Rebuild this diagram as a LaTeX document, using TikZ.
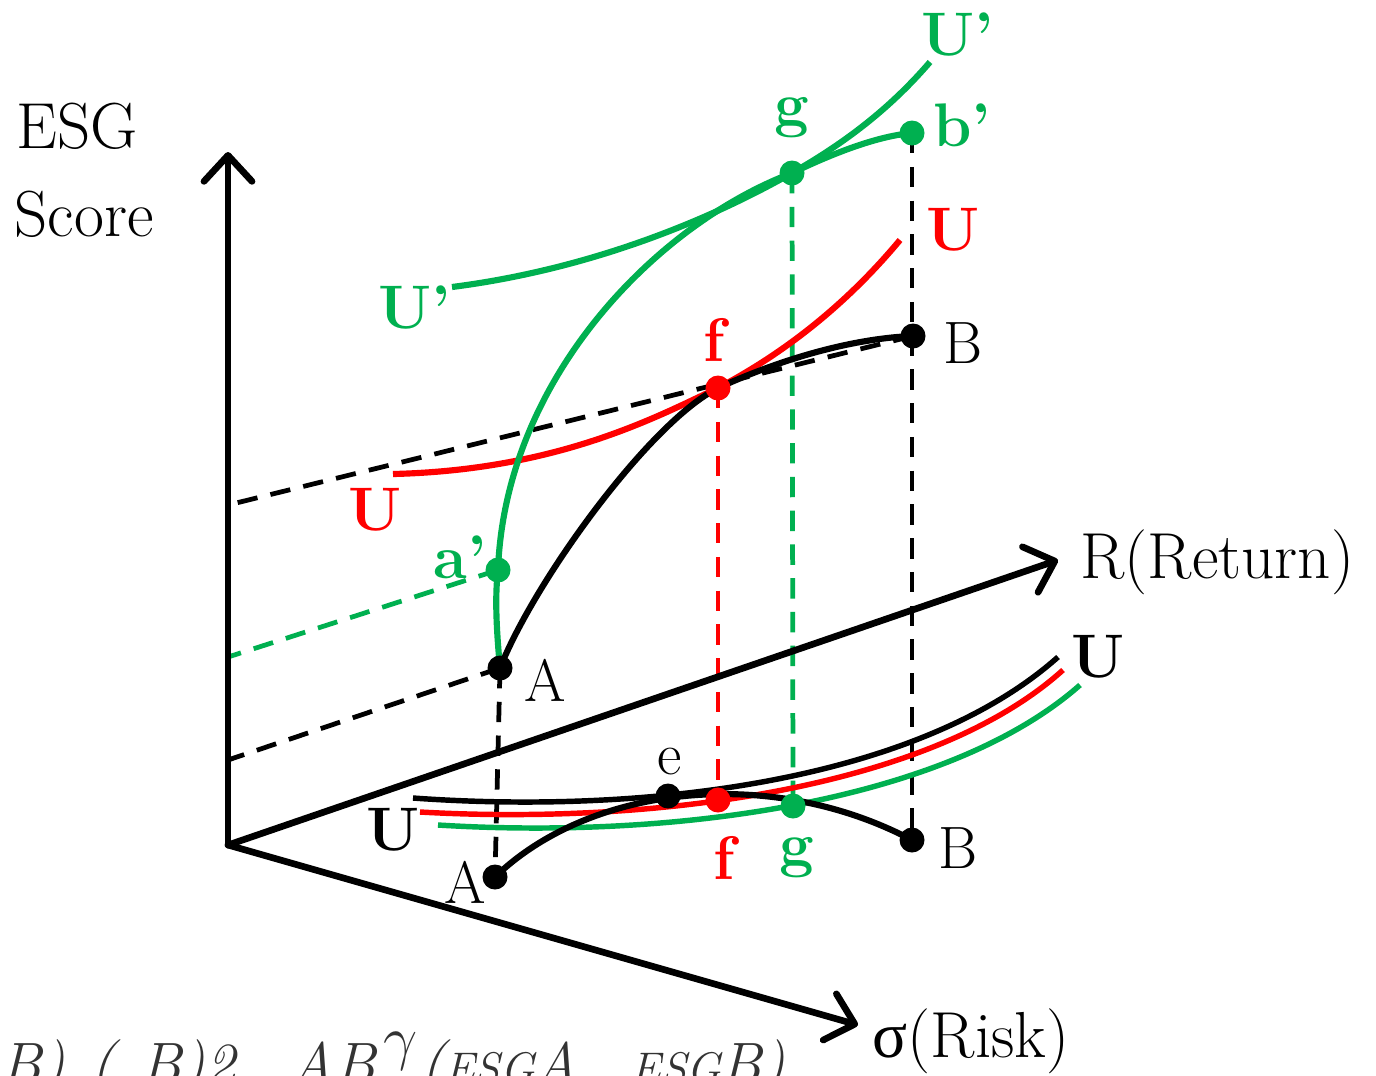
\documentclass[tikz,border=0pt]{standalone}
\usepackage{fontspec}
\newfontfamily\greekfont{Liberation Serif}
\usetikzlibrary{arrows.meta}
\definecolor{esgGreen}{HTML}{00B050}
\definecolor{esgRed}{HTML}{FF0000}

\begin{document}
\begin{tikzpicture}[
  x=0.01cm, y=-0.01cm,
  axis/.style={line width=1.9pt, line cap=round, -{Straight Barb[length=2.6mm,width=4.8mm,round]}},
  curve/.style={line width=1.75pt},
  flat/.style={line width=1.55pt},
  guide/.style={line width=1.35pt, dash pattern=on 5.8pt off 3.8pt},
  dot/.style={circle, fill, inner sep=0pt, minimum size=0.25cm},
  lbl/.style={font=\fontsize{17}{20}\selectfont, inner sep=1pt},
  tag/.style={font=\fontsize{17.5}{20}\selectfont\bfseries, inner sep=1pt},
  axlbl/.style={font=\fontsize{18.5}{24}\selectfont, inner sep=0pt},
  frag/.style={font=\fontsize{17}{20}\selectfont\itshape, text=black!80, inner sep=0pt, anchor=base west},
]
  \useasboundingbox (0,0) rectangle (1376,1075);

  % axes and points
  \coordinate (O) at (228,845);
  \coordinate (esgTip) at (228,152);
  \coordinate (retTip) at (1058,560);
  \coordinate (riskTip) at (858,1025);
  \coordinate (axA) at (228,760);
  \coordinate (axa) at (228,657);
  \coordinate (axB) at (228,505);

  \coordinate (A) at (500,668);
  \coordinate (B) at (913,336);
  \coordinate (f) at (718,388);
  \coordinate (a) at (498,570);
  \coordinate (g) at (792,173);
  \coordinate (b) at (912,133);
  \coordinate (A0) at (495,877);
  \coordinate (B0) at (912,840);
  \coordinate (e0) at (668,796);
  \coordinate (f0) at (718,800);
  \coordinate (g0) at (793,806);

  % projection lines
  \draw[guide] (A) -- (axA);
  \draw[guide, esgGreen] (a) -- (axa);
  \draw[guide] (B) -- (axB);
  \draw[guide] (A) -- (A0);
  \draw[guide] (b) -- (B0);
  \draw[guide, esgGreen] (g) -- (g0);
  \draw[guide, esgRed] (f) -- (f0);

  \draw[axis] (O) -- (esgTip);
  \draw[axis] (O) -- (retTip);
  \draw[axis] (O) -- (riskTip);

  % upper curves
  \draw[curve, esgRed] (393,474) .. controls (560,470) and (660,415) .. (f)
    .. controls (790,350) and (850,300) .. (900,240);
  \draw[curve] (A) .. controls (535,580) and (650,422) .. (f)
    .. controls (790,355) and (860,338) .. (B);
  \draw[curve, esgGreen] (452,287) .. controls (600,268) and (720,214) .. (g)
    .. controls (850,140) and (893,105) .. (930,62);
  \draw[curve, esgGreen] (A) .. controls (496,625) and (495,595) .. (a)
    .. controls (505,380) and (655,225) .. (g)
    .. controls (840,150) and (880,136) .. (b);

  % bottom plane
  \draw[flat] (413,798) .. controls (650,815) and (920,780) .. (1058,657);
  \draw[flat, esgRed] (420,812) .. controls (650,825) and (930,790) .. (1063,670);
  \draw[flat, esgGreen] (438,825) .. controls (680,840) and (950,800) .. (1080,685);
  \draw[curve] (A0) .. controls (590,785) and (770,765) .. (B0);

  % dots
  \node[dot] (dA) at (A) {};
  \node[dot] (dB) at (B) {};
  \node[dot, esgRed] (df) at (f) {};
  \node[dot, esgGreen] (da) at (a) {};
  \node[dot, esgGreen] (dg) at (g) {};
  \node[dot, esgGreen] (db) at (b) {};
  \node[dot] (dA0) at (A0) {};
  \node[dot] (dB0) at (B0) {};
  \node[dot] (de0) at (e0) {};
  \node[dot, esgRed] (df0) at (f0) {};
  \node[dot, esgGreen] (dg0) at (g0) {};

  % labels
  \node[axlbl, anchor=base west] (labEsg) at (16,148) {ESG};
  \node[axlbl, anchor=base west] (labScore) at (14,236) {Score};
  \node[axlbl, anchor=base west] (labRet) at (1080,578) {R(Return)};
  \node[axlbl, anchor=base west] (labRisk) at (872,1057) {{\greekfont σ}(Risk)};

  \node[lbl] (labA) at (545,680) {A};
  \node[lbl] (labB) at (963,343) {B};
  \node[lbl] (labA0) at (465,882) {A};
  \node[lbl] (labB0) at (958,848) {B};
  \node[lbl] (labe) at (670,762) {e};
  \node[tag] (labUa) at (393,830) {U};
  \node[tag] (labUb) at (1098,657) {U};
  \node[tag, esgRed] (labUr) at (953,230) {U};
  \node[tag, esgRed] (labUl) at (375,510) {U};
  \node[tag, esgRed] (labf) at (714,340) {f};
  \node[tag, esgRed] (labf0) at (724,858) {f};
  \node[tag, esgGreen] (labg) at (792,118) {g};
  \node[tag, esgGreen] (labg0) at (797,858) {g};
  \node[tag, esgGreen] (laba) at (460,557) {a’};
  \node[tag, esgGreen] (labb) at (962,125) {b’};
  \node[tag, esgGreen] (labUpt) at (958,35) {U’};
  \node[tag, esgGreen] (labUpl) at (415,308) {U’};

  % cut-off formula at the bottom edge
  \node[frag] (fr1) at (0,1084) {B)};
  \node[frag] (fr2) at (90,1084) {(};
  \node[frag] (fr3) at (140,1084) {B)2};
  \node[frag] (fr4) at (290,1084) {AB};
  \node[frag] (fr5) at (383,1058) {$\gamma$};
  \node[frag] (fr6) at (420,1084) {({\fontsize{13}{14}\selectfont ESG}A};
  \node[frag] (fr7) at (630,1084) {{\fontsize{13}{14}\selectfont ESG}B)};
\end{tikzpicture}
\end{document}
